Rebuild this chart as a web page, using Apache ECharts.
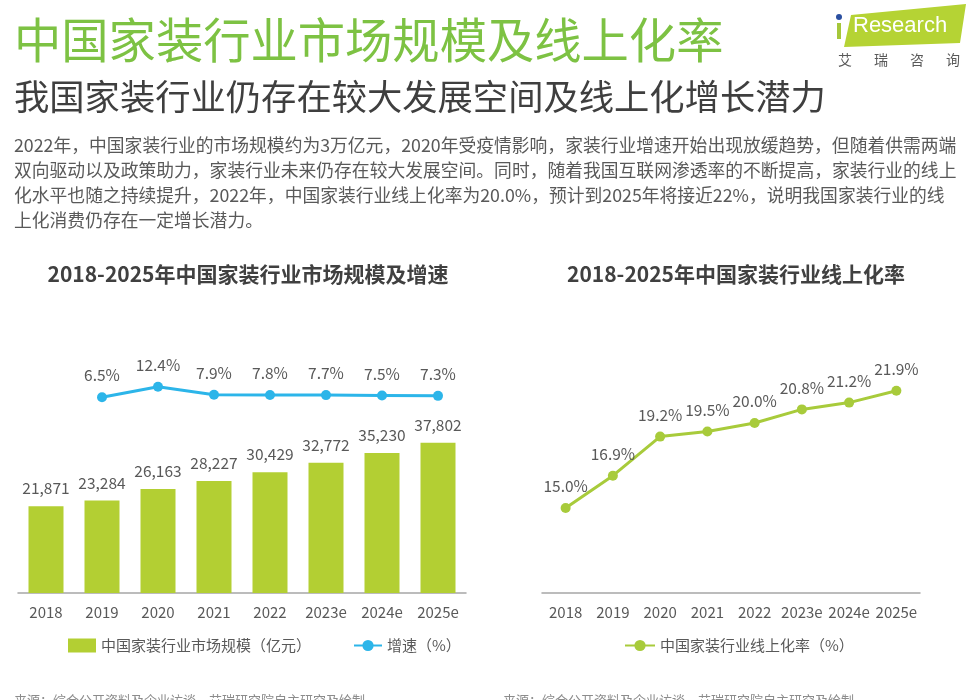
<!DOCTYPE html>
<html>
<head>
<meta charset="utf-8">
<script src="https://cdn.jsdelivr.net/npm/echarts@6/dist/echarts.min.js"></script>
<style>
html,body{margin:0;padding:0;background:#fff;}
#chart{width:967px;height:700px;}
</style>
</head>
<body>
<div id="chart"></div>
<script>
// ---- data ----
const categories = ['2018','2019','2020','2021','2022','2023e','2024e','2025e'];
const marketSize = [21871, 23284, 26163, 28227, 30429, 32772, 35230, 37802];
const growthRate = [6.5, 12.4, 7.9, 7.8, 7.7, 7.5, 7.3];
const growthCats = ['2019','2020','2021','2022','2023e','2024e','2025e'];
const onlineRate = [15.0, 16.9, 19.2, 19.5, 20.0, 20.8, 21.2, 21.9];

const mainTitle = '中国家装行业市场规模及线上化率';
const subTitle = '我国家装行业仍存在较大发展空间及线上化增长潜力';
const paragraph = [
  '2022年，中国家装行业的市场规模约为3万亿元，2020年受疫情影响，家装行业增速开始出现放缓趋势，但随着供需两端',
  '双向驱动以及政策助力，家装行业未来仍存在较大发展空间。同时，随着我国互联网渗透率的不断提高，家装行业的线上',
  '化水平也随之持续提升，2022年，中国家装行业线上化率为20.0%，预计到2025年将接近22%，说明我国家装行业的线',
  '上化消费仍存在一定增长潜力。'
];
const leftTitle = '2018-2025年中国家装行业市场规模及增速';
const rightTitle = '2018-2025年中国家装行业线上化率';
const sourceText = '来源：综合公开资料及企业访谈，艾瑞研究院自主研究及绘制。';
const logoText = 'Research';
const logoChars = ['艾', '瑞', '咨', '询'];

// ---- styles ----
const FONT = '"Noto Sans CJK SC", "Noto Sans", sans-serif';
const GREEN_TITLE = '#7DC243';
const BAR = '#B3CF33';
const BLUE = '#2CB5E9';
const LGREEN = '#A8CB3B';
const TXT = '#595959';

const chart = echarts.init(document.getElementById('chart'));

const growthData = categories.map(c => {
  const i = growthCats.indexOf(c);
  return i >= 0 ? growthRate[i] : '-';
});

const graphics = [];
graphics.push({type:'text', left:14, top:16, style:{text:mainTitle, fill:GREEN_TITLE, font:'47.3px ' + FONT}});
graphics.push({type:'text', left:14, top:79, style:{text:subTitle, fill:'#3f3f3f', font:'35.3px ' + FONT}});
paragraph.forEach((line, i) => {
  graphics.push({type:'text', left:14, top:136 + i*25, style:{text:line, fill:TXT, font:'17.8px ' + FONT}});
});
graphics.push({type:'text', left:14, top:694, style:{text:sourceText, fill:'#8c8c8c', font:'13px ' + FONT}});
graphics.push({type:'text', left:503, top:694, style:{text:sourceText, fill:'#8c8c8c', font:'13px ' + FONT}});
// logo
graphics.push({type:'polygon', shape:{points:[[851,15],[966,4],[960,43],[844,47]]}, style:{fill:'#B5D334'}});
graphics.push({type:'circle', shape:{cx:839, cy:17, r:3}, style:{fill:'#2A4FA0'}});
graphics.push({type:'rect', shape:{x:837, y:23, width:4, height:16}, style:{fill:'#A5C73A'}});
graphics.push({type:'text', left:853, top:15, style:{text:logoText, fill:'#fff', font:'22px "Liberation Sans", Arial, sans-serif'}});
logoChars.forEach((ch, i) => {
  graphics.push({type:'text', left:838 + i*36, top:53, style:{text:ch, fill:'#595959', font:'14px ' + FONT}});
});

const option = {
  animation:false,
  backgroundColor:'#fff',
  textStyle:{fontFamily:FONT},
  title:[
    {text:leftTitle, left:243, top:259, textAlign:'center', textStyle:{fontSize:21, fontWeight:'bold', color:'#404040', fontFamily:FONT}},
    {text:rightTitle, left:731, top:259, textAlign:'center', textStyle:{fontSize:21, fontWeight:'bold', color:'#404040', fontFamily:FONT}}
  ],
  legend:[
    {left:63, top:633, itemGap:42, itemWidth:28, itemHeight:14,
     textStyle:{fontSize:15, color:TXT, fontFamily:FONT},
     data:[{name:'中国家装行业市场规模（亿元）', icon:'rect'}, {name:'增速（%）'}]},
    {left:619, top:633, itemWidth:30, itemHeight:14,
     textStyle:{fontSize:15, color:TXT, fontFamily:FONT},
     data:[{name:'中国家装行业线上化率（%）'}]}
  ],
  grid:[
    {left:18, top:315, width:448, height:278},
    {left:542, top:321, width:378, height:272}
  ],
  xAxis:[
    {type:'category', gridIndex:0, data:categories,
     axisLine:{lineStyle:{color:'#a6a6a6', width:1.5}}, axisTick:{show:false},
     axisLabel:{fontSize:15, color:TXT, margin:12, fontFamily:FONT}},
    {type:'category', gridIndex:1, data:categories,
     axisLine:{lineStyle:{color:'#a6a6a6', width:1.5}}, axisTick:{show:false},
     axisLabel:{fontSize:15, color:TXT, margin:12, fontFamily:FONT, interval:0}}
  ],
  yAxis:[
    {type:'value', gridIndex:0, min:0, max:70000, show:false, splitLine:{show:false}},
    {type:'value', gridIndex:0, min:-102.2, max:52.2, show:false, splitLine:{show:false}},
    {type:'value', gridIndex:1, min:10, max:26, show:false, splitLine:{show:false}}
  ],
  series:[
    {name:'中国家装行业市场规模（亿元）', type:'bar', xAxisIndex:0, yAxisIndex:0, data:marketSize,
     barWidth:35, itemStyle:{color:BAR},
     label:{show:true, position:'top', distance:10, fontSize:15.5, color:TXT, fontFamily:FONT,
       formatter:p => p.value.toLocaleString('en-US')}},
    {name:'增速（%）', type:'line', xAxisIndex:0, yAxisIndex:1, data:growthData,
     symbol:'circle', symbolSize:10, lineStyle:{color:BLUE, width:3}, itemStyle:{color:BLUE},
     label:{show:true, position:'top', distance:9, fontSize:15.5, color:TXT, fontFamily:FONT,
       formatter:p => p.value.toFixed(1) + '%'}},
    {name:'中国家装行业线上化率（%）', type:'line', xAxisIndex:1, yAxisIndex:2, data:onlineRate,
     symbol:'circle', symbolSize:10, lineStyle:{color:LGREEN, width:3}, itemStyle:{color:LGREEN},
     label:{show:true, position:'top', distance:9, fontSize:15.5, color:TXT, fontFamily:FONT,
       formatter:p => p.value.toFixed(1) + '%'}}
  ],
  graphic:graphics
};
chart.setOption(option);
</script>
</body>
</html>
